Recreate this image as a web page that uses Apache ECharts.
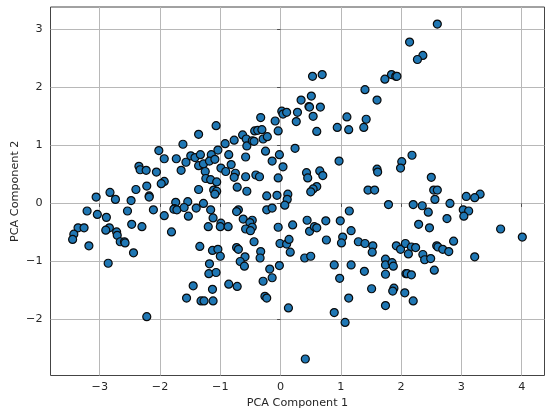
<!DOCTYPE html>
<html>
<head>
<meta charset="utf-8">
<style>html,body{margin:0;padding:0;background:#fff}#c{width:550px;height:413px}</style>
<script src="https://cdn.jsdelivr.net/npm/echarts@6/dist/echarts.min.js"></script>
</head>
<body>
<div id="c"></div>
<script>
const xAxisName = 'PCA Component 1';
const yAxisName = 'PCA Component 2';
const xTicks = [-3,-2,-1,0,1,2,3,4];
const yTicks = [-2,-1,0,1,2,3];
const upperLeft = [[-1.07,1.34],[-1.36,1.19],[-1.62,1.02],[-2.02,0.91],[-1.93,0.77],[-1.73,0.77],[-2.35,0.64],[-2.33,0.58],[-2.23,0.57],[-2.06,0.54],[-1.57,0.71],[-1.65,0.57],[-1.49,0.82],[-1.42,0.79],[-1.33,0.84],[-1.36,0.65],[-1.28,0.68],[-1.25,0.55],[-1.15,0.84],[-1.18,0.73],[-1.09,0.76],[-1.04,0.92],[-0.92,1.03],[-0.77,1.09],[-0.86,0.84],[-0.63,1.18],[-0.57,1.11],[-0.56,0.99],[-0.47,1.08],[-0.44,1.07],[-0.43,1.25],[-0.38,1.26],[-0.31,1.27],[-0.33,1.48],[-0.29,1.11],[-0.22,1.15],[-0.09,1.42],[-0.04,1.25],[-0.25,0.90],[-0.14,0.73],[-0.02,0.84],[-0.58,0.80],[-0.82,0.67],[-0.99,0.61],[-0.91,0.55],[-0.75,0.52],[-0.77,0.45],[-0.58,0.46],[-0.41,0.49],[-0.35,0.46],[-0.04,0.44],[-1.24,0.43],[-1.16,0.41],[-1.06,0.37],[-1.93,0.38],[-1.98,0.34],[-2.22,0.30],[-2.40,0.24],[-2.83,0.19],[-3.06,0.11],[-2.74,0.07],[-2.48,0.05],[-2.18,0.13],[-2.18,0.11],[-1.36,0.24],[-1.11,0.23],[-1.06,0.21],[-1.09,0.16],[-0.72,0.28],[-0.56,0.21],[-0.23,0.13],[-0.06,0.14],[-1.74,0.02],[-1.54,0.03],[-1.28,0.00]];
const upperRight = [[0.02,1.59],[0.04,1.54],[0.10,1.57],[0.28,1.57],[0.26,1.41],[0.34,1.78],[0.04,0.63],[0.24,0.95],[0.12,0.16],[0.11,0.07],[2.60,3.09],[2.14,2.78],[2.36,2.55],[2.27,2.48],[1.84,2.22],[1.73,2.14],[1.91,2.19],[1.93,2.19],[0.69,2.22],[0.53,2.19],[1.40,1.96],[1.60,1.78],[0.51,1.85],[0.66,1.66],[0.47,1.67],[0.48,1.66],[0.54,1.50],[0.60,1.24],[1.10,1.49],[0.94,1.31],[1.13,1.27],[1.42,1.45],[1.38,1.31],[0.97,0.73],[2.18,0.83],[2.01,0.72],[1.99,0.61],[1.60,0.59],[1.61,0.54],[0.43,0.53],[0.45,0.44],[0.65,0.56],[0.70,0.48],[0.60,0.29],[0.54,0.25],[0.50,0.20],[1.45,0.23],[1.56,0.23],[2.50,0.45],[2.54,0.23],[2.60,0.23],[2.56,0.07],[3.08,0.12],[3.31,0.16],[3.22,0.10],[2.81,0.00]];
const lowerLeft = [[-3.21,-0.13],[-3.04,-0.19],[-2.89,-0.24],[-2.54,-0.13],[-2.11,-0.11],[-1.93,-0.21],[-1.76,-0.09],[-1.77,-0.10],[-1.72,-0.11],[-1.60,-0.07],[-1.40,-0.08],[-1.53,-0.22],[-1.16,-0.11],[-1.12,-0.25],[-0.99,-0.34],[-1.00,-0.40],[-1.20,-0.40],[-0.87,-0.40],[-0.70,-0.11],[-0.73,-0.14],[-0.62,-0.27],[-0.47,-0.29],[-0.51,-0.33],[-0.47,-0.41],[-0.58,-0.44],[-0.50,-0.47],[-0.23,-0.11],[-0.14,-0.08],[-0.04,-0.41],[-2.47,-0.36],[-2.30,-0.40],[-1.81,-0.49],[-2.84,-0.42],[-2.90,-0.46],[-3.36,-0.42],[-3.26,-0.42],[-3.43,-0.53],[-3.45,-0.62],[-3.18,-0.73],[-2.72,-0.49],[-2.71,-0.55],[-2.66,-0.66],[-2.59,-0.66],[-2.58,-0.68],[-2.44,-0.85],[-2.86,-1.03],[-0.44,-0.66],[-0.01,-0.69],[-1.34,-0.74],[-1.13,-0.81],[-1.04,-0.79],[-1.00,-0.91],[-0.73,-0.76],[-0.70,-0.79],[-0.33,-0.83],[-0.34,-0.94],[-0.59,-0.92],[-0.67,-1.00],[-0.60,-1.08],[-0.02,-1.07],[-0.18,-1.13],[-0.14,-1.28],[-0.29,-1.34],[-1.18,-1.04],[-1.19,-1.21],[-1.07,-1.19],[-1.45,-1.42],[-1.13,-1.48],[-0.86,-1.39],[-0.72,-1.43],[-1.56,-1.63],[-1.32,-1.68],[-1.27,-1.68],[-1.12,-1.68],[-0.26,-1.60],[-0.23,-1.63],[-2.22,-1.95]];
const lowerRight = [[0.07,-0.03],[0.20,-0.37],[0.10,-0.70],[0.14,-0.62],[0.16,-0.84],[0.13,-1.80],[1.79,-0.02],[1.14,-0.13],[2.20,-0.02],[2.35,-0.04],[2.45,-0.15],[3.03,-0.11],[3.12,-0.13],[3.04,-0.22],[2.76,-0.26],[2.29,-0.36],[2.47,-0.42],[3.65,-0.44],[4.01,-0.58],[0.44,-0.29],[0.75,-0.30],[0.99,-0.30],[0.48,-0.48],[0.56,-0.40],[0.60,-0.42],[1.17,-0.47],[1.03,-0.58],[1.01,-0.68],[0.76,-0.63],[1.29,-0.66],[1.40,-0.69],[1.53,-0.73],[1.52,-0.84],[1.92,-0.73],[1.99,-0.79],[2.07,-0.69],[2.17,-0.75],[2.24,-0.76],[2.12,-0.87],[2.36,-0.88],[2.39,-0.97],[2.49,-0.95],[2.59,-0.73],[2.61,-0.75],[2.69,-0.79],[2.79,-0.83],[2.87,-0.65],[3.22,-0.92],[0.40,-0.94],[0.50,-0.91],[0.89,-1.06],[1.17,-1.06],[0.98,-1.29],[1.39,-1.17],[1.74,-0.96],[1.74,-1.06],[1.85,-1.02],[1.87,-1.08],[1.74,-1.22],[2.08,-1.21],[2.10,-1.21],[2.17,-1.23],[2.55,-1.15],[1.51,-1.47],[1.88,-1.46],[1.86,-1.51],[2.06,-1.54],[2.20,-1.68],[1.13,-1.63],[1.74,-1.76],[0.89,-1.88],[1.07,-2.05],[0.41,-2.68]];
const points = [...upperLeft, ...upperRight, ...lowerLeft, ...lowerRight];

const FONT = '"DejaVu Sans", sans-serif';
function xyLabel(v){ return v < 0 ? '\u2212' + Math.abs(v) : String(v); }

function axis(name, ticks, min, max, nameGap, margin) {
  return {
    type: 'value', min, max, interval: 1,
    name, nameLocation: 'middle', nameGap, nameMoveOverlap: false,
    nameTextStyle: { fontFamily: FONT, fontSize: 11.2, color: '#262626' },
    axisLine: { show: false },
    axisTick: { show: true, length: 3.5, customValues: ticks, lineStyle: { color: '#333', width: 0.8 } },
    axisLabel: { show: true, customValues: ticks, margin, fontFamily: FONT, fontSize: 11.2, color: '#262626', formatter: xyLabel },
    splitLine: { show: true, lineStyle: { color: '#b8b8b8', width: 1 } }
  };
}

const chart = echarts.init(document.getElementById('c'), null, { renderer: 'canvas' });
chart.setOption({
  animation: false,
  backgroundColor: '#fff',
  grid: { show: true, left: 50.5, right: 5.5, top: 7, bottom: 37.5, outerBoundsMode: 'none', borderColor: '#444', borderWidth: 1, backgroundColor: 'transparent' },
  xAxis: axis(xAxisName, xTicks, -3.817, 4.378, 22, 6),
  yAxis: axis(yAxisName, yTicks, -2.964, 3.384, 30, 8),
  series: [{
    type: 'scatter',
    data: points,
    symbol: 'circle',
    symbolSize: 8,
    itemStyle: { color: '#1f77b4', borderColor: '#0a0a0a', borderWidth: 1.2, opacity: 1 }
  }]
});
</script>
</body>
</html>
